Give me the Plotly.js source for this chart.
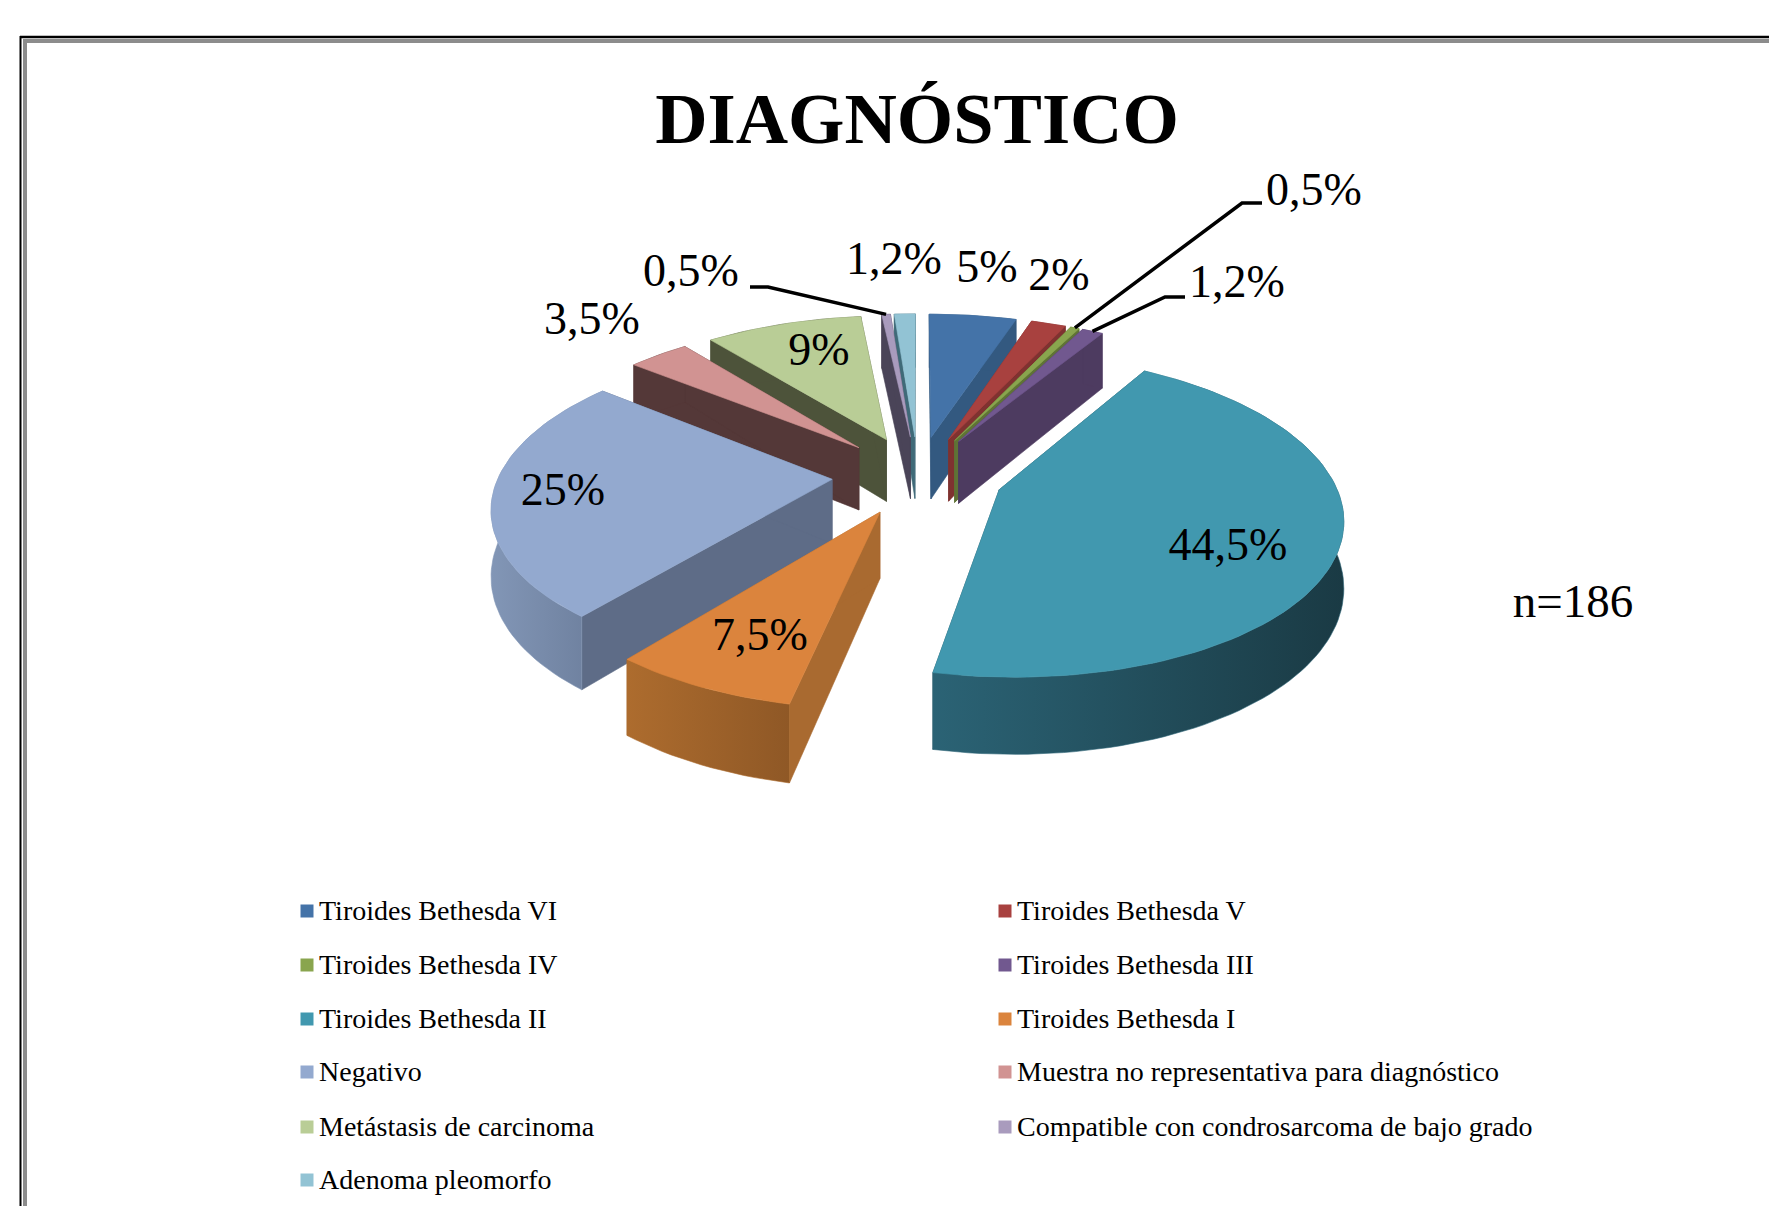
<!DOCTYPE html>
<html>
<head>
<meta charset="utf-8">
<script src="https://cdn.plot.ly/plotly-3.0.1.min.js"></script>
<style>html,body{margin:0;padding:0;background:#fff}</style>
</head>
<body>
<div id="chart" style="width:1769px;height:1206px"></div>
<script>
// ---- data ----
const categories = ["Tiroides Bethesda VI","Tiroides Bethesda V","Tiroides Bethesda IV","Tiroides Bethesda III","Tiroides Bethesda II","Tiroides Bethesda I","Negativo","Muestra no representativa para diagnóstico","Metástasis de carcinoma","Compatible con condrosarcoma de bajo grado","Adenoma pleomorfo"];
const values = [5,2,0.5,1.2,44.5,7.5,25,3.5,9,0.5,1.2];
const valueLabels = ["5%","2%","0,5%","1,2%","44,5%","7,5%","25%","3,5%","9%","0,5%","1,2%"];
const topColors = ["#4473A8","#A8413F","#89A54E","#71588F","#4198AF","#DB843D","#93A9CF","#D19392","#B9CD96","#A99BBD","#92C3D4"];
const wallColors = ["#335980","#7F3230","#5F7336","#4D3B60","#1F4D5B","#A96A30","#5E6C87","#543838","#4D533A","#4A4458","#3F6A78"];
const outerWallLeft = ["#335980","#7F3230","#5F7336","#4D3B60","#2B6375","#AD6C2E","#8296B6","#543838","#4D533A","#4A4458","#3F6A78"];
const outerWallRight = ["#335980","#7F3230","#5F7336","#4D3B60","#1A3A44","#8F5826","#6C7E9C","#543838","#4D533A","#4A4458","#3F6A78"];

// ---- pie geometry ----
const CX=918, CY=475, RADIUS=333, EXPLODE=86, TILT=0.46, PERSP=0.000468, DEPTH=64;
const TOTAL = values.reduce((a,b)=>a+b,0);
const dir = t => [Math.sin(t), -Math.cos(t)];
function project(gx,gy,z){
  const s = 1/(1-PERSP*gy);
  return [CX+gx*s, CY+TILT*gy*s+z*s];
}
const traces=[];
const slices=[]; let cum=0;
values.forEach((v,i)=>{
  const a0=cum/TOTAL*2*Math.PI; cum+=v; const a1=cum/TOTAL*2*Math.PI;
  const m=dir((a0+a1)/2);
  slices.push({i,a0,a1,ox:EXPLODE*m[0],oy:EXPLODE*m[1]});
});
const polyTrace=(pts,color,grad)=>{
  const t={type:"scatter",mode:"lines",x:pts.map(p=>p[0]),y:pts.map(p=>p[1]),fill:"toself",
    line:{width:0.6,color:color},fillcolor:color,hoverinfo:"skip",showlegend:false};
  if(grad){t.fillgradient={type:"horizontal",colorscale:[[0,grad[0]],[1,grad[1]]]};}
  return t;
};
const arc=(s,z,rev)=>{
  const n=Math.max(2,Math.ceil((s.a1-s.a0)/0.03));const out=[];
  for(let k=0;k<=n;k++){const t=s.a0+(s.a1-s.a0)*(rev?n-k:k)/n;const d=dir(t);
    out.push(project(s.ox+RADIUS*d[0],s.oy+RADIUS*d[1],z));}
  return out;
};
[...slices].sort((a,b)=>a.oy-b.oy).forEach(s=>{
  const ap=project(s.ox,s.oy,0), apB=project(s.ox,s.oy,DEPTH);
  const top=arc(s,0,false), bot=arc(s,DEPTH,true);
  traces.push(polyTrace([ap,apB,bot[bot.length-1],top[0],ap],wallColors[s.i]));
  traces.push(polyTrace([ap,apB,bot[0],top[top.length-1],ap],wallColors[s.i]));
  traces.push(polyTrace(top.concat(bot).concat([top[0]]),outerWallLeft[s.i],[outerWallLeft[s.i],outerWallRight[s.i]]));
  traces.push(polyTrace([ap].concat(top).concat([ap]),topColors[s.i]));
});

// ---- data labels ----
const labelX=[987,1059,1314,1237,1228,760,563,592,819,691,894];
const labelY=[270,278,193,285,548,638,493,322,353,274,262];
traces.push({type:"scatter",mode:"text",x:labelX,y:labelY,text:valueLabels,textposition:"middle center",
  textfont:{family:"Liberation Serif",size:46,color:"#000"},hoverinfo:"skip",showlegend:false,cliponaxis:false});

// ---- leader lines: from the outer edge of the small slices to their labels ----
const leaderElbows=[{i:2,pts:[[1262,203],[1242,203]]},{i:3,pts:[[1185,297],[1165,297]]},{i:9,pts:[[750,287],[768,287]]}];
leaderElbows.forEach(l=>{
  const s=slices[l.i],d=dir((s.a0+s.a1)/2),e=project(s.ox+RADIUS*d[0],s.oy+RADIUS*d[1],0);
  const pts=l.pts.concat([e]);
  traces.push({type:"scatter",mode:"lines",x:pts.map(p=>p[0]),y:pts.map(p=>p[1]),line:{color:"#000",width:3.5},hoverinfo:"skip",showlegend:false});
});

// ---- key ----
const keyColumnX=[307,1005], keyRowY=[911,965,1019,1072,1127,1180], keyTextGap=12, keyTextDrop=2;
const keyX=categories.map((c,i)=>keyColumnX[i%2]);
const keyY=categories.map((c,i)=>keyRowY[Math.floor(i/2)]);
traces.push({type:"scatter",mode:"markers",x:keyX,y:keyY,
  marker:{symbol:"square",size:13,color:topColors,line:{width:0}},
  hoverinfo:"skip",showlegend:false,cliponaxis:false});
traces.push({type:"scatter",mode:"text",x:keyX.map(v=>v+keyTextGap),y:keyY.map(v=>v+keyTextDrop),
  text:categories,textposition:"middle right",
  textfont:{family:"Liberation Serif",size:28,color:"#000"},
  hoverinfo:"skip",showlegend:false,cliponaxis:false});

// ---- n note ----
traces.push({type:"scatter",mode:"text",x:[1573],y:[605],text:["n=186"],textposition:"middle center",
  textfont:{family:"Liberation Serif",size:47,color:"#000"},hoverinfo:"skip",showlegend:false});

const layout={
  width:1769,height:1206,autosize:false,margin:{l:0,r:0,t:0,b:0,pad:0},
  paper_bgcolor:"#fff",plot_bgcolor:"#fff",showlegend:false,
  title:{text:"<b>DIAGNÓSTICO</b>",x:917/1769,xanchor:"center",y:1-118/1206,yanchor:"middle",
    font:{family:"Liberation Serif",size:72.5,color:"#000"}},
  xaxis:{range:[0,1769],visible:false,fixedrange:true},
  yaxis:{range:[1206,0],visible:false,fixedrange:true},
  shapes:[
    {type:"line",xref:"x",yref:"y",x0:20.5,x1:20.5,y0:36,y1:1206,line:{color:"#000",width:2}},
    {type:"line",xref:"x",yref:"y",x0:20,x1:1769,y0:37,y1:37,line:{color:"#000",width:2.5}},
    {type:"line",xref:"x",yref:"y",x0:25,x1:25,y0:40,y1:1206,line:{color:"#8c8c8c",width:4}},
    {type:"line",xref:"x",yref:"y",x0:23,x1:1769,y0:41,y1:41,line:{color:"#8c8c8c",width:4}}
  ]
};
Plotly.newPlot("chart",traces,layout,{displayModeBar:false,responsive:false});
</script>
</body>
</html>
